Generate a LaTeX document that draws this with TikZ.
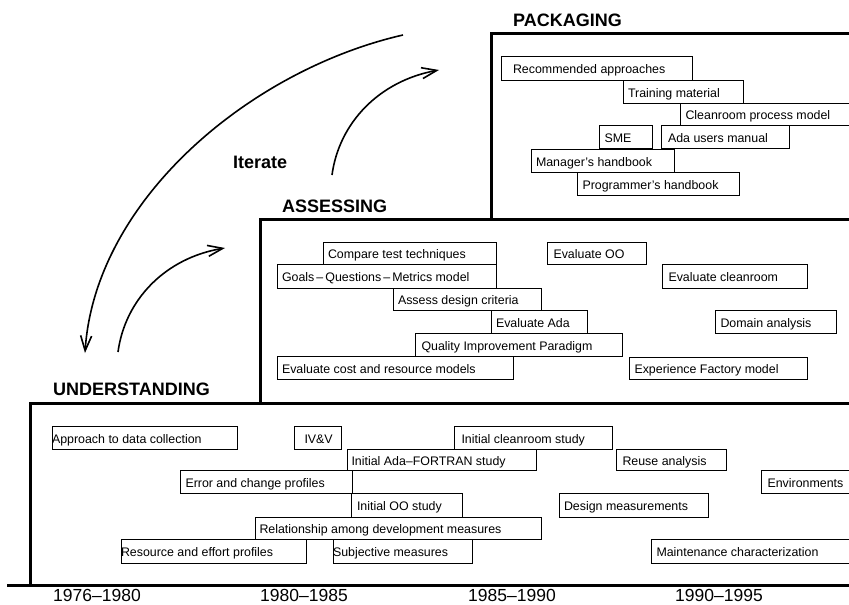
\documentclass[tikz,border=0pt]{standalone}
\usepackage{fontspec}
\setmainfont{Liberation Sans}
\usetikzlibrary{arrows.meta}
\newcommand\tb[7]{%
  \pgfmathsetlengthmacro\tbw{(#4-#2-2*#6)*1pt}%
  \pgfmathsetlengthmacro\tbh{(#5-#3)*1pt}%
  \node[tbox, inner xsep=#6pt, minimum height=\tbh, anchor=north west] (#1) at (#2,#3) {\makebox[\tbw][l]{#7}};}
\tikzset{
  tbox/.style={draw, line width=0.9pt, fill=white, rectangle, outer sep=0pt, inner ysep=0pt,
    text height=11.5pt, text depth=0.5pt, font=\fontsize{12.4}{14}\selectfont},
  stage/.style={draw, line width=3pt, line cap=rect},
  heading/.style={anchor=base west, inner sep=0pt, font=\fontsize{18}{20}\selectfont\bfseries},
  year/.style={anchor=base west, inner sep=0pt, font=\fontsize{17.5}{20}\selectfont},
  iterarrow/.style={line width=1.6pt, -{Straight Barb[length=15pt,width=11pt,line width=1.6pt]}}
}
\begin{document}
\begin{tikzpicture}[x=1pt, y=-1pt]
\useasboundingbox (0,0) rectangle (849,605);
\clip (0,0) rectangle (849,605);
\fill[white] (0,0) rectangle (849,605);

% stage outlines
\draw[stage] (491,218) -- (491,33) -- (870,33);
\draw[stage] (260,403) -- (260,219) -- (870,219);
\draw[stage] (30,585) -- (30,403) -- (870,403);
\draw[stage] (8,585) -- (870,585);

% headings
\node[heading] (hpack) at (513,27) {PACKAGING};
\node[heading] (hass) at (282,212) {ASSESSING};
\node[heading] (hund) at (53,395) {UNDERSTANDING};
\node[heading] (iter) at (233,168) {Iterate};

% years
\node[year] (y1) at (53,601) {1976--1980};
\node[year] (y2) at (260,601) {1980--1985};
\node[year] (y3) at (468,601) {1985--1990};
\node[year] (y4) at (675,601) {1990--1995};

% packaging
\tb{rec}{501}{56}{692}{80}{12}{Recommended approaches}
\tb{trn}{623}{80}{743}{103}{5}{Training material}
\tb{clp}{680}{103}{870}{125}{5.5}{Cleanroom process model}
\tb{sme}{599}{125}{652}{148}{5.5}{SME}
\tb{ada}{661}{125}{789}{148}{7}{Ada users manual}
\tb{mgr}{531}{149}{674}{172}{5}{Manager’s handbook}
\tb{prg}{577}{172}{739}{195}{5.5}{Programmer’s handbook}

% assessing
\tb{ctt}{323}{242}{496}{264}{5}{Compare test techniques}
\tb{gqm}{277}{264}{496}{288}{5}{Goals\,–\,Questions\,–\,Metrics model}
\tb{adc}{393}{288}{541}{310}{5}{Assess design criteria}
\tb{eva}{491}{310}{587}{333}{5}{Evaluate Ada}
\tb{qip}{415}{333}{622}{356}{6.5}{Quality Improvement Paradigm}
\tb{ecr}{277}{356}{513}{379}{5}{Evaluate cost and resource models}
\tb{eoo}{547}{242}{646}{264}{6.5}{Evaluate OO}
\tb{ecl}{662}{264}{807}{288}{6.5}{Evaluate cleanroom}
\tb{dom}{715}{310}{836}{333}{5.5}{Domain analysis}
\tb{efm}{629}{357}{807}{379}{5.5}{Experience Factory model}

% understanding
\tb{adcl}{52}{426}{237}{449}{0}{Approach to data collection}
\tb{ivv}{294}{426}{341}{449}{10.5}{IV\&V}
\tb{iaf}{347}{449}{536}{470}{4.5}{Initial Ada–FORTRAN study}
\tb{ecp}{180}{470}{352}{493}{5.5}{Error and change profiles}
\tb{ioo}{351}{493}{462}{517}{6}{Initial OO study}
\tb{rdm}{255}{517}{541}{539}{4.5}{Relationship among development measures}
\tb{rep}{121}{539}{306}{563}{0}{Resource and effort profiles}
\tb{sub}{333}{539}{472}{563}{0}{Subjective measures}
\tb{ics}{454}{426}{612}{449}{7.5}{Initial cleanroom study}
\tb{reu}{616}{449}{726}{470}{6.5}{Reuse analysis}
\tb{env}{761}{470}{870}{493}{6.5}{Environments}
\tb{dsm}{559}{493}{708}{517}{5}{Design measurements}
\tb{mch}{651}{539}{870}{563}{5.5}{Maintenance characterization}

% iterate arrows
\coordinate (a0s) at (403,35);
\coordinate (a0e) at (85,353);
\coordinate (a1s) at (118,352);
\coordinate (a1e) at (225,248);
\coordinate (a2s) at (332,175);
\coordinate (a2e) at (439,70);
\draw[iterarrow] (a0s) .. controls (250,70) and (95,200) .. (a0e);
\draw[iterarrow] (a1s) .. controls (125,300) and (165,258) .. (a1e);
\draw[iterarrow] (a2s) .. controls (339,123) and (379,81) .. (a2e);
\end{tikzpicture}
\end{document}
